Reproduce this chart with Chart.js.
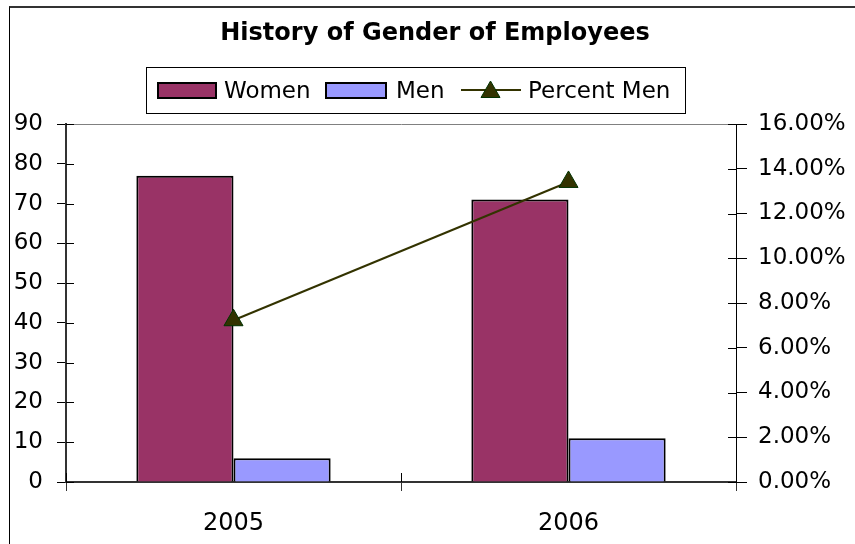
<!DOCTYPE html>
<html>
<head>
<meta charset="utf-8">
<script src="https://cdn.jsdelivr.net/npm/chart.js@4/dist/chart.umd.min.js"></script>
<style>
  html, body { margin: 0; padding: 0; background: #fff; }
  #wrap { position: relative; width: 855px; height: 544px; overflow: hidden; background: #fff; }
  #frame { position: absolute; left: 9px; top: 6px; right: -10px; bottom: -10px;
           border-top: 2px solid #333; border-left: 1px solid #000; }
  #c { position: absolute; left: 0; top: 0; }
  .t { position: absolute; font-family: "DejaVu Sans", sans-serif; color: #000; white-space: nowrap; }
  #title { left: 9px; width: 852px; top: 18px; text-align: center; font-weight: bold; font-size: 24px; line-height: 28px; }
  #legbox { position: absolute; left: 146px; top: 67px; width: 540px; height: 47px; border: 1px solid #000; box-sizing: border-box; }
  .sw { position: absolute; top: 82px; height: 17px; border: 2px solid #000; box-sizing: border-box; }
  .lt { top: 76px; font-size: 23px; line-height: 28px; }
</style>
</head>
<body>
<div id="wrap">
  <div id="frame"></div>
  <canvas id="c" width="855" height="544"></canvas>
  <div id="title" class="t">History of Gender of Employees</div>
  <div id="legbox"></div>
  <div class="sw" style="left:157px;width:60px;background:#993366"></div>
  <div class="t lt" style="left:224px">Women</div>
  <div class="sw" style="left:325px;width:62px;background:#9999FF"></div>
  <div class="t lt" style="left:396px">Men</div>
  <svg style="position:absolute;left:461px;top:76px" width="60" height="28">
    <line x1="0" y1="14" x2="60" y2="14" stroke="#333300" stroke-width="2"/>
    <polygon points="29.5,5 39,21.5 20,21.5" fill="#333300" stroke="#003300" stroke-width="1"/>
  </svg>
  <div class="t lt" style="left:528px">Percent Men</div>
</div>
<script>
const years = ['2005', '2006'];
const women = [77, 71];
const men = [6, 11];
const percentMen = [7.23, 13.41];
const leftTicks = { min: 0, max: 90, step: 10 };
const rightTicks = { min: 0, max: 16, step: 2 };

const innerTicks = {
  id: 'innerTicks',
  afterDraw(chart) {
    const ctx = chart.ctx;
    const { left, right, bottom } = chart.chartArea;
    const y = chart.scales.y, y1 = chart.scales.y1, x = chart.scales.x;
    ctx.save();
    ctx.strokeStyle = '#000';
    ctx.lineWidth = 1;
    y.ticks.forEach((t, i) => {
      const p = Math.round(y.getPixelForTick(i)) + 0.5;
      ctx.beginPath(); ctx.moveTo(left, p); ctx.lineTo(left + 8, p); ctx.stroke();
    });
    y1.ticks.forEach((t, i) => {
      const p = Math.round(y1.getPixelForTick(i)) + 0.5;
      ctx.beginPath(); ctx.moveTo(right - 8, p); ctx.lineTo(right, p); ctx.stroke();
    });
    for (let i = 0; i <= years.length; i++) {
      const p = Math.round(x.getPixelForValue(i - 0.5)) + 0.5;
      ctx.beginPath(); ctx.moveTo(p, bottom - 9); ctx.lineTo(p, bottom); ctx.stroke();
    }
    ctx.restore();
  }
};

const tickFont = { family: 'DejaVu Sans', size: 23 };

new Chart(document.getElementById('c'), {
  type: 'bar',
  data: {
    labels: years,
    datasets: [
      {
        type: 'line', label: 'Percent Men', data: percentMen, yAxisID: 'y1', order: 0,
        borderColor: '#333300', borderWidth: 2, backgroundColor: '#333300',
        pointStyle: 'triangle', pointRadius: 11, pointHoverRadius: 11,
        pointBackgroundColor: '#333300', pointBorderColor: '#003300', pointBorderWidth: 1,
        tension: 0, fill: false
      },
      {
        label: 'Women', data: women, yAxisID: 'y', order: 1,
        backgroundColor: '#993366', borderColor: '#000', borderWidth: 2,
        barPercentage: 1, categoryPercentage: 0.58
      },
      {
        label: 'Men', data: men, yAxisID: 'y', order: 1,
        backgroundColor: '#9999FF', borderColor: '#000', borderWidth: 2,
        barPercentage: 1, categoryPercentage: 0.58
      }
    ]
  },
  options: {
    responsive: false,
    animation: false,
    devicePixelRatio: 1,
    layout: { padding: { top: 124, left: 0, right: 0, bottom: 0 } },
    plugins: { legend: { display: false }, title: { display: false }, tooltip: { enabled: false } },
    scales: {
      x: {
        offset: true,
        grid: { drawOnChartArea: false, offset: true, tickLength: 9, tickColor: '#333', color: '#333' },
        border: { color: '#333', width: 2 },
        ticks: { font: { family: 'DejaVu Sans', size: 24 }, color: '#000', padding: 18, maxRotation: 0 },
        afterFit: s => { s.height = 62; }
      },
      y: {
        position: 'left', min: leftTicks.min, max: leftTicks.max,
        ticks: { stepSize: leftTicks.step, font: tickFont, color: '#000', padding: 14 },
        grid: {
          tickLength: 9, tickColor: '#000',
          color: c => (c.tick && c.tick.value === leftTicks.max) ? '#808080' : 'rgba(0,0,0,0)'
        },
        border: { color: '#333', width: 2 },
        afterFit: s => { s.width = 66; }
      },
      y1: {
        position: 'right', min: rightTicks.min, max: rightTicks.max,
        ticks: { stepSize: rightTicks.step, font: tickFont, color: '#000', padding: 11,
                 callback: v => v.toFixed(2) + '%' },
        grid: { drawOnChartArea: false, tickLength: 11, tickColor: '#000' },
        border: { color: '#000', width: 1 },
        afterFit: s => { s.width = 119; }
      }
    }
  },
  plugins: [innerTicks]
});
</script>
</body>
</html>
